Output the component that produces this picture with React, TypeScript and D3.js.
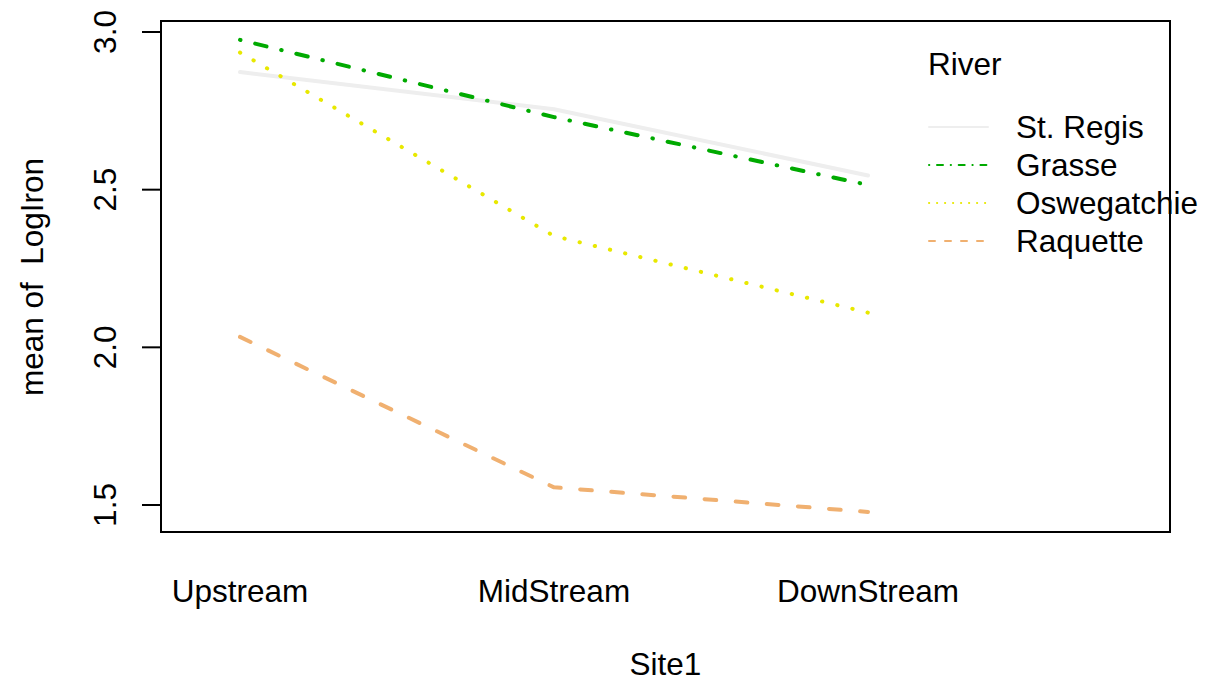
import React from "react";
import * as d3 from "d3";

const sites = ["Upstream", "MidStream", "DownStream"];
const rivers = ["St. Regis", "Grasse", "Oswegatchie", "Raquette"];
const stRegis = [2.873, 2.755, 2.545];
const grasse = [2.975, 2.73, 2.515];
const oswegatchie = [2.935, 2.353, 2.11];
const raquette = [2.033, 1.556, 1.478];
const yTicks = [1.5, 2.0, 2.5, 3.0];

const seriesValues = [stRegis, grasse, oswegatchie, raquette];
const colors = ["#EEEEEE", "#00AA00", "#E8E800", "#F0B070"];
const dashPlot = ["none", "0.5 15.1 11.7 15.1", "0.3 15.3", "11.7 19.5"];
const dashLegend = ["none", "0.3 7.7 6 7.7", "0.2 7.8", "6 10"];

export default function App() {
  const W = 1206, H = 681;
  const left = 161, right = 1170, top = 21, bottom = 532;
  const x = d3.scalePoint<string>().domain([...sites, "", " "]).range([240, 240 + 314 * 4]);
  const y = d3.scaleLinear().domain([1.5, 3.0]).range([505, 32]);
  const line = d3.line<number>().x((_, i) => x(sites[i]) as number).y((d) => y(d));
  const font = "Liberation Sans, Arial, Helvetica, sans-serif";
  const fs = 31.5;
  return (
    <svg width={W} height={H} style={{ position: "absolute", left: 0, top: 0, background: "#fff" }} fontFamily={font}>
      <rect x={0} y={0} width={W} height={H} fill="#fff" />
      <clipPath id="clip"><rect x={left} y={top} width={right - left} height={bottom - top} /></clipPath>
      <g clipPath="url(#clip)">
        {seriesValues.map((vals, i) => (
          <path key={i} d={line(vals) || ""} fill="none" stroke={colors[i]} strokeWidth={4}
            strokeDasharray={dashPlot[i]} strokeLinecap="round" strokeLinejoin="round" />
        ))}
      </g>
      <rect x={left} y={top} width={right - left} height={bottom - top} fill="none" stroke="#000" strokeWidth={2} />
      {yTicks.map((t) => (
        <g key={t}>
          <line x1={left} x2={left - 19} y1={y(t)} y2={y(t)} stroke="#000" strokeWidth={2} />
          <text transform={`translate(116,${y(t)}) rotate(-90)`} textAnchor="middle" fontSize={fs}>{t.toFixed(1)}</text>
        </g>
      ))}
      {sites.map((s) => (
        <text key={s} x={x(s)} y={602} textAnchor="middle" fontSize={fs}>{s}</text>
      ))}
      <text x={(left + right) / 2} y={675} textAnchor="middle" fontSize={fs}>Site1</text>
      <text transform={`translate(43,${277}) rotate(-90)`} textAnchor="middle" fontSize={fs} xmlSpace="preserve">mean of  LogIron</text>
      <text x={928} y={75} fontSize={fs}>River</text>
      {rivers.map((r, i) => {
        const cy = 127 + i * 38;
        return (
          <g key={r}>
            <line x1={929} x2={988} y1={cy} y2={cy} stroke={colors[i]} strokeWidth={2}
              strokeDasharray={dashLegend[i]} strokeLinecap="round" />
            <text x={1016} y={cy + 11} fontSize={fs}>{r}</text>
          </g>
        );
      })}
    </svg>
  );
}
